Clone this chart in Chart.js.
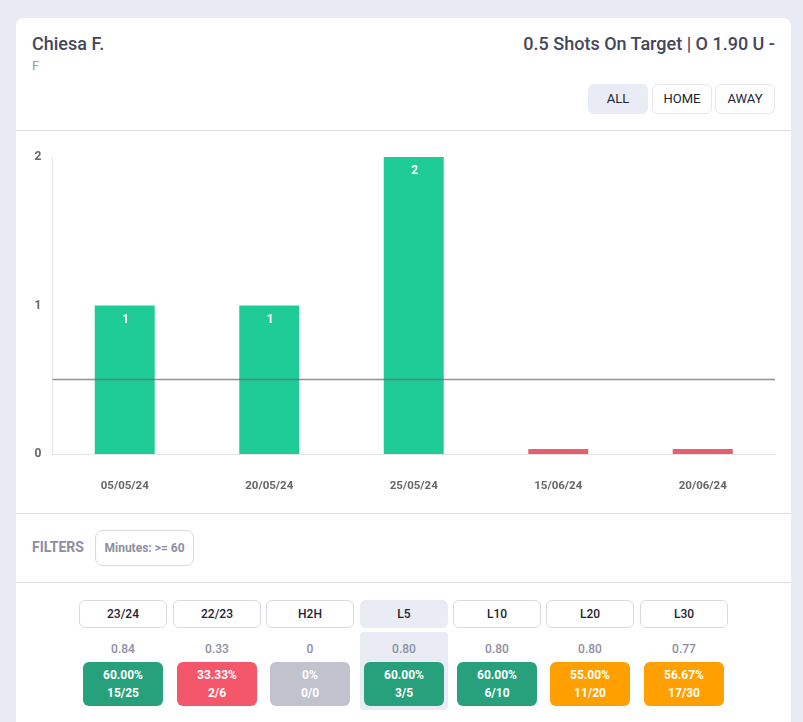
<!DOCTYPE html>
<html>
<head>
<meta charset="utf-8">
<title>Chiesa F.</title>
<script src="https://cdn.jsdelivr.net/npm/chart.js@4"></script>
<style>
html, body { margin: 0; padding: 0; }
body { width: 803px; height: 722px; overflow: hidden; background: #e8ebf4; font-family: Roboto, sans-serif; position: relative; }
.card { position: absolute; left: 16px; top: 18px; width: 775px; height: 720px; background: #fff; border-radius: 8px; }
.abs { position: absolute; white-space: nowrap; }
.sep { position: absolute; left: 16px; width: 775px; height: 1px; background: #dcdde0; }
.btn { position: absolute; box-sizing: border-box; border: 1px solid #e6e7ec; border-radius: 6px; background: #fff; color: #1f2230; font-size: 13px; text-align: center; }
.btn.on { background: #e9ecf5; border-color: #e9ecf5; }
.tab { height: 28px; line-height: 26px; width: 88px; top: 600px; border-color: #d9dbe0; font-weight: 500; font-size: 12px; }
.avg { position: absolute; top: 642px; width: 88px; text-align: center; font-size: 12px; font-weight: 500; color: #8e8ea3; }
.pill { position: absolute; top: 662px; width: 80px; height: 44px; border-radius: 6px; color: #fff; text-align: center; font-size: 12px; font-weight: 700; line-height: 18px; box-sizing: border-box; padding-top: 4px; }
#chart { position: absolute; left: 16px; top: 131px; }
</style>
</head>
<body>
<div class="card"></div>
<div class="abs" style="left:32px;top:33px;font-size:18px;font-weight:500;color:#44475a">Chiesa F.</div>
<div class="abs" style="left:32px;top:58px;font-size:13px;color:#9a9aa5">F</div>
<div class="abs" style="right:28px;top:33px;font-size:18px;font-weight:500;color:#44475a">0.5 Shots On Target | O 1.90 U -</div>
<div class="btn on" style="left:588px;top:84px;width:60px;height:30px;line-height:28px">ALL</div>
<div class="btn" style="left:652px;top:84px;width:60px;height:30px;line-height:28px">HOME</div>
<div class="btn" style="left:715px;top:84px;width:60px;height:30px;line-height:28px">AWAY</div>
<div class="sep" style="top:130px"></div>
<canvas id="chart" width="775" height="382"></canvas>
<div class="sep" style="top:513px"></div>
<div class="abs" style="left:32px;top:539px;font-size:14px;font-weight:700;color:#8e8ea3">FILTERS</div>
<div class="abs" style="left:95px;top:530px;width:99px;height:36px;box-sizing:border-box;border:1px solid #d9dbe0;border-radius:8px;text-align:center;line-height:34px;font-size:12px;font-weight:700;color:#8e8ea3">Minutes: &gt;= 60</div>
<div class="sep" style="top:582px"></div>
<div class="abs" style="left:360px;top:632px;width:88px;height:78px;background:#e9ecf5;border-radius:4px"></div>
<div id="table"></div>
<script>
const dates = ['05/05/24', '20/05/24', '25/05/24', '15/06/24', '20/06/24'];
const shots = [1, 1, 2, 0, 0];
const line = 0.5;
const yTicks = [0, 1, 2];

const tabs = ['23/24', '22/23', 'H2H', 'L5', 'L10', 'L20', 'L30'];
const avgs = ['0.84', '0.33', '0', '0.80', '0.80', '0.80', '0.77'];
const pcts = ['60.00%', '33.33%', '0%', '60.00%', '60.00%', '55.00%', '56.67%'];
const hits = ['15/25', '2/6', '0/0', '3/5', '6/10', '11/20', '17/30'];
const pillColors = ['#26a17b', '#f4566a', '#c0c3cd', '#26a17b', '#26a17b', '#ff9f00', '#ff9f00'];
const tabLeft = [79, 173, 266, 360, 453, 546, 640];

// bottom table
const table = document.getElementById('table');
tabs.forEach((t, i) => {
    const x = tabLeft[i];
    table.innerHTML +=
        `<div class="btn tab${t === 'L5' ? ' on' : ''}" style="left:${x}px">${t}</div>` +
        `<div class="avg" style="left:${x}px">${avgs[i]}</div>` +
        `<div class="pill" style="left:${x + 4}px;background:${pillColors[i]}">${pcts[i]}<br>${hits[i]}</div>`;
});

// line across the whole plot + labels inside the bars
const extras = {
    id: 'extras',
    afterDatasetsDraw(chart) {
        const { ctx, chartArea, scales } = chart;
        const y = Math.floor(scales.y.getPixelForValue(line)) + 0.5;
        ctx.save();
        ctx.strokeStyle = 'rgba(110,110,110,0.75)';
        ctx.lineWidth = 1.5;
        ctx.beginPath();
        ctx.moveTo(chartArea.left, y);
        ctx.lineTo(chartArea.right, y);
        ctx.stroke();
        ctx.fillStyle = '#fff';
        ctx.font = '700 12px Roboto';
        ctx.textAlign = 'center';
        ctx.textBaseline = 'middle';
        chart.getDatasetMeta(0).data.forEach((bar, i) => {
            if (shots[i] > 0) ctx.fillText(shots[i], bar.x + 1, bar.y + 14);
        });
        ctx.restore();
    }
};

new Chart(document.getElementById('chart'), {
    type: 'bar',
    data: {
        labels: dates,
        datasets: [{
            data: shots,
            backgroundColor: shots.map(v => v > line ? '#1fcc98' : '#e5606f'),
            minBarLength: 5,
            barPercentage: 0.415,
            categoryPercentage: 1
        }]
    },
    options: {
        responsive: false,
        animation: false,
        layout: { padding: { top: 26, right: 16, left: 0, bottom: 0 } },
        plugins: { legend: { display: false }, tooltip: { enabled: false } },
        scales: {
            x: {
                grid: { display: false, drawTicks: false },
                border: { color: '#e3e4e8' },
                ticks: { color: '#666', padding: 25, font: { family: 'Roboto', size: 11.5, weight: '700' } },
                afterFit(scale) { scale.height = 59; }
            },
            y: {
                min: 0,
                max: 2,
                afterBuildTicks(scale) { scale.ticks = yTicks.map(value => ({ value })); },
                grid: { display: false, drawTicks: false },
                border: { color: '#e3e4e8' },
                ticks: { color: '#666', padding: 11, font: { family: 'Roboto', size: 12, weight: '700' } },
                afterFit(scale) { scale.width = 36.5; }
            }
        }
    },
    plugins: [extras]
});
</script>
</body>
</html>
